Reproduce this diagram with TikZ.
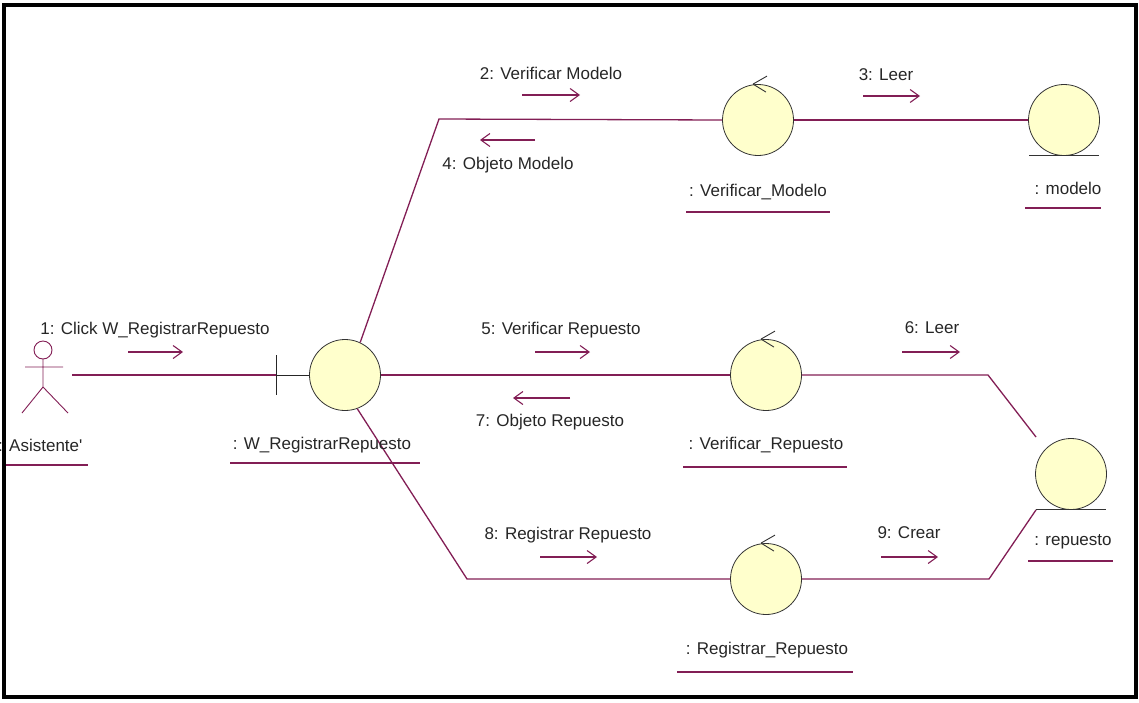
\documentclass[tikz,border=0pt]{standalone}
\usepackage{fontspec}
\setmainfont{Liberation Sans}
\usetikzlibrary{arrows.meta}
\definecolor{lnk}{RGB}{130,30,85}
\definecolor{objfill}{RGB}{255,255,204}
\begin{document}
\begin{tikzpicture}[x=1pt,y=-1pt,
  obj/.style={circle,draw=black!80,fill=objfill,minimum size=71pt,inner sep=0pt,line width=0.8pt},
  conn/.style={draw=lnk,line width=1.3pt},
  msg/.style={draw=lnk,line width=1.1pt,-{Straight Barb[length=9pt,width=13pt,line width=1.1pt]}},
  lbl/.style={font=\fontsize{17}{20}\selectfont,inner sep=0pt,text=black!85},
  uline/.style={draw=lnk,line width=1.5pt},
  ctrlmark/.style={draw=black!80,line width=0.9pt}]
\useasboundingbox (0,0) rectangle (1139,702);

% objects
\node[obj] (wr) at (345,375) {};
\node[obj] (vm) at (758,120) {};
\node[obj] (mo) at (1064,120) {};
\node[obj] (vr) at (766,375) {};
\node[obj] (rr) at (766,579) {};
\node[obj] (re) at (1071,474) {};

% control marks
\foreach \n in {vm,vr,rr}{
  \draw[ctrlmark] ([xshift=-5pt]\n.north) -- ++(14,-8);
  \draw[ctrlmark] ([xshift=-5pt]\n.north) -- ++(13,8);
}
% entity underlines
\draw[black!80,line width=1pt] ([xshift=-35pt]mo.south) -- ([xshift=35pt]mo.south);
\draw[black!80,line width=1pt] ([xshift=-35pt]re.south) -- ([xshift=35pt]re.south);

% boundary
\coordinate (bb) at (276,375);
\draw[black!85,line width=1pt] (276,355) -- (276,395);
\draw[black!85,line width=1pt] (bb) -- (wr.west);

% actor
\draw[lnk,line width=0.9pt] (43,350) circle (9);
\draw[lnk,line width=0.9pt] (43,359) -- (43,387) (25,367) -- (63,367) (22,413) -- (43,387) -- (68,413);
\coordinate (act) at (72,375);

% links
\draw[conn] (act) -- (bb);
\draw[conn] (wr.65) -- (439,119) -- (vm.west);
\draw[conn] (vm.east) -- (mo.west);
\draw[conn] (wr.east) -- (vr.west);
\draw[conn] (vr.east) -- (988,375) -- ([xshift=-35pt,yshift=37pt]re.center);
\draw[conn] ([xshift=-35pt]re.south) -- (989,579) -- (rr.east);
\draw[conn] (rr.west) -- (467,579) -- (wr.-70);

% object labels
\node[lbl,anchor=west] (la) at (-2,445) {: Asistente\textquotesingle};
\draw[uline] (5,465) -- (88,465);
\node[lbl] (lwr) at (322,445) {: W\_RegistrarRepuesto};
\draw[uline] (230,463) -- (420,463);
\node[lbl] (lvm) at (758,192) {: Verificar\_Modelo};
\draw[uline] (686,212) -- (830,212);
\node[lbl] (lmo) at (1068,188) {: modelo};
\draw[uline] (1025,208) -- (1101,208);
\node[lbl] (lvr) at (766,445) {: Verificar\_Repuesto};
\draw[uline] (683,467) -- (847,467);
\node[lbl] (lre) at (1073,542) {: repuesto};
\draw[uline] (1028,561) -- (1113,561);
\node[lbl] (lrr) at (767,650) {: Registrar\_Repuesto};
\draw[uline] (677,672) -- (853,672);

% messages
\node[lbl] (m1) at (155,330) {1: Click W\_RegistrarRepuesto};
\draw[msg] (128,352) -- (183,352);
\node[lbl] (m2) at (551,73) {2: Verificar Modelo};
\draw[msg] (522,95) -- (580,95);
\node[lbl] (m3) at (886,75) {3: Leer};
\draw[msg] (863,96) -- (920,96);
\node[lbl] (m4) at (508,165) {4: Objeto Modelo};
\draw[msg] (535,140) -- (480,140);
\node[lbl] (m5) at (561,330) {5: Verificar Repuesto};
\draw[msg] (535,352) -- (590,352);
\node[lbl] (m6) at (932,328) {6: Leer};
\draw[msg] (902,352) -- (960,352);
\node[lbl] (m7) at (550,422) {7: Objeto Repuesto};
\draw[msg] (570,398) -- (513,398);
\node[lbl] (m8) at (568,535) {8: Registrar Repuesto};
\draw[msg] (540,557) -- (597,557);
\node[lbl] (m9) at (909,533) {9: Crear};
\draw[msg] (881,557) -- (938,557);

% frame
\draw[black,line width=3.5pt] (4,5) rectangle (1136,697);
\end{tikzpicture}
\end{document}
